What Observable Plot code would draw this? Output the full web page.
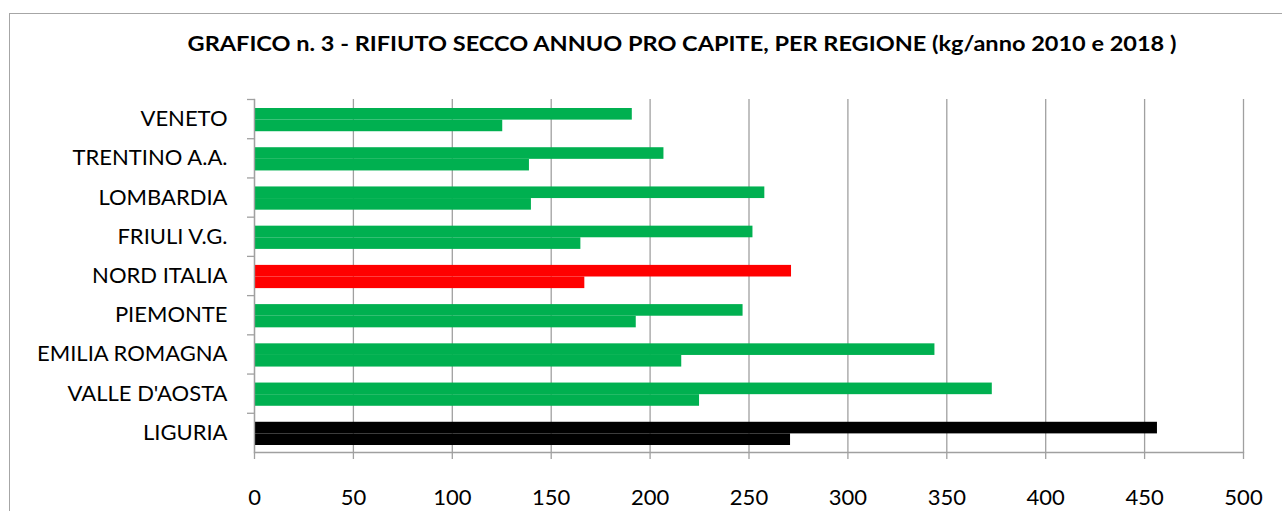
<!DOCTYPE html>
<html>
<head>
<meta charset="utf-8">
<script src="https://cdn.jsdelivr.net/npm/d3@7"></script>
<script src="https://cdn.jsdelivr.net/npm/@observablehq/plot@0.6"></script>
<style>
  html, body { margin: 0; padding: 0; background: #fff; }
  #wrap { position: relative; width: 1282px; height: 511px; overflow: hidden; font-family: Lato, "Open Sans", sans-serif; }
  #border { position: absolute; left: 9px; top: 13px; width: 1400px; height: 600px; border: 1px solid #a6a6a6; box-sizing: border-box; }
  #title { position: absolute; left: 0; top: 30px; width: 1364px; text-align: center; font-weight: bold; font-size: 21px; color: #000; white-space: nowrap; transform: scaleX(1.12); transform-origin: 682px 50%; }
  #chart { position: absolute; left: 0; top: 60px; }
</style>
</head>
<body>
<div id="wrap">
  <div id="border"></div>
  <div id="title">GRAFICO n. 3 - RIFIUTO SECCO ANNUO PRO CAPITE, PER REGIONE (kg/anno 2010 e 2018 )</div>
  <div id="chart"></div>
</div>
<script>
const regions = ["VENETO", "TRENTINO A.A.", "LOMBARDIA", "FRIULI V.G.", "NORD ITALIA", "PIEMONTE", "EMILIA ROMAGNA", "VALLE D'AOSTA", "LIGURIA"];
const values2010 = [191, 207, 258, 252, 271.5, 247, 344, 373, 456.5];
const values2018 = [125.5, 139, 140, 165, 167, 193, 216, 225, 271];
const barColors = ["#00B050", "#00B050", "#00B050", "#00B050", "#FF0000", "#00B050", "#00B050", "#00B050", "#000000"];
const xTicks = [0, 50, 100, 150, 200, 250, 300, 350, 400, 450, 500];

const rows = regions.map((r, i) => ({region: r, v2010: values2010[i], v2018: values2018[i], color: barColors[i]}));

const W = 1282, H = 451, mt = 39, mb = 59, ml = 254, mr = 39;
const step = (H - mt - mb) / regions.length;
const gapTop = 9, gapBottom = 7;
const half = (step - gapTop - gapBottom) / 2;
const gridColor = "#a0a0a0";

const chart = Plot.plot({
  width: W, height: H,
  marginTop: mt, marginBottom: mb, marginLeft: ml, marginRight: mr,
  style: {fontFamily: "Lato, 'Open Sans', sans-serif", fontSize: "22px", color: "#000", background: "transparent"},
  x: {domain: [0, 500], label: null},
  y: {domain: regions, padding: 0, round: false, label: null},
  color: {type: "identity"},
  marks: [
    Plot.gridX(xTicks, {stroke: gridColor, strokeOpacity: 1, strokeWidth: 1.3}),
    Plot.barX(rows, {y: "region", x: "v2010", fill: "color", insetTop: gapTop, insetBottom: gapBottom + half}),
    Plot.barX(rows, {y: "region", x: "v2018", fill: "color", insetTop: gapTop + half, insetBottom: gapBottom}),
    Plot.frame({anchor: "left", stroke: gridColor, strokeWidth: 1.3}),
    Plot.frame({anchor: "bottom", stroke: gridColor, strokeWidth: 1.3}),
    Plot.axisX(xTicks, {tickSize: 7, tickPadding: 30, stroke: gridColor, strokeWidth: 1.3, fill: "#000", fontSize: 22, tickFormat: d => String(d)}),
    Plot.axisY({tickSize: 0, tickPadding: 27, fill: "#000", fontSize: 22}),
    Plot.axisY({tickSize: 7, tickFormat: () => "", dy: -step / 2, stroke: gridColor, strokeWidth: 1.3})
  ]
});
document.getElementById("chart").appendChild(chart);
</script>
</body>
</html>
